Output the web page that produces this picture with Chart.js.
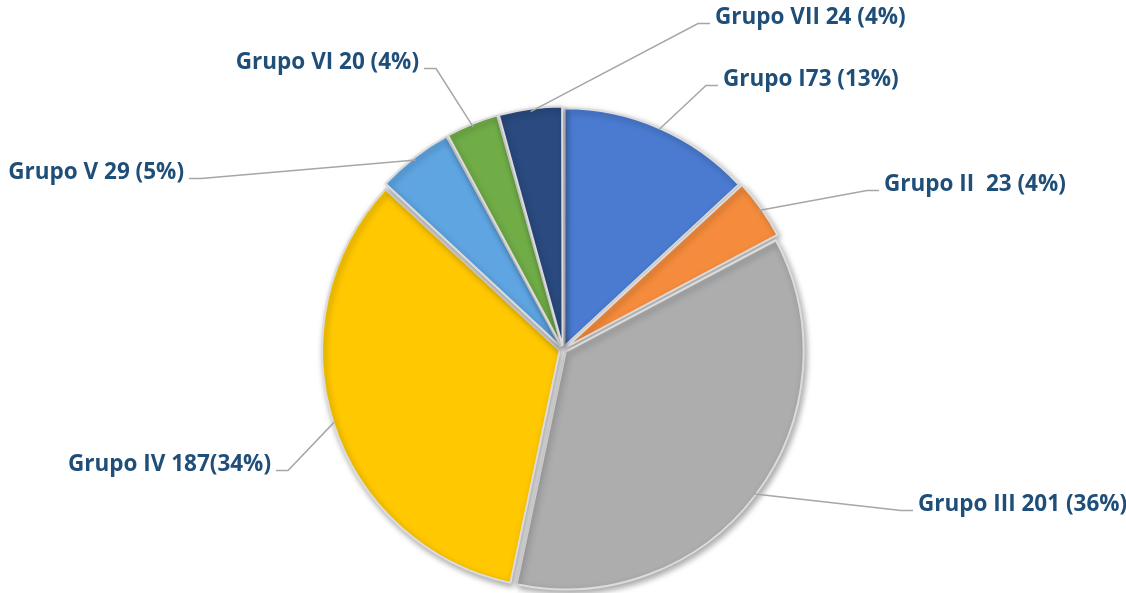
<!DOCTYPE html>
<html>
<head>
<meta charset="utf-8">
<script src="https://cdn.jsdelivr.net/npm/chart.js@4.4.0/dist/chart.umd.min.js"></script>
<style>
  html, body { margin: 0; padding: 0; background: #fff; }
  #wrap { width: 1126px; height: 593px; position: relative; }
</style>
</head>
<body>
<div id="wrap"><canvas id="grupos"></canvas></div>

<script>
// data
const categories = ["Grupo I", "Grupo II", "Grupo III", "Grupo IV", "Grupo V", "Grupo VI", "Grupo VII"];
const values = [73, 23, 201, 187, 29, 20, 24];
const labelTexts = ["Grupo I73 (13%)", "Grupo II  23 (4%)", "Grupo III 201 (36%)", "Grupo IV 187(34%)",
                    "Grupo V 29 (5%)", "Grupo VI 20 (4%)", "Grupo VII 24 (4%)"];

// styles / layout
const sliceColors = ["#4a7bd0", "#f58b3c", "#adadad", "#ffc800", "#5ea5e2", "#70ad47", "#2a4a80"];
// where each leader line bends, relative to pie centre, and which side the text sits
const labelSpots = [
  { dx: 143, dy: -264, side: "right" },
  { dx: 304, dy: -159, side: "right" },
  { dx: 338, dy: 161, side: "right" },
  { dx: -275, dy: 121, side: "left" },
  { dx: -362, dy: -171, side: "left" },
  { dx: -127, dy: -281, side: "left" },
  { dx: 135, dy: -326, side: "right" }
];

function shade(hex, amt) {
  const n = parseInt(hex.slice(1), 16);
  let r = (n >> 16) & 255, g = (n >> 8) & 255, b = n & 255;
  const f = c => Math.max(0, Math.min(255, Math.round(amt >= 0 ? c + (255 - c) * amt : c * (1 + amt))));
  return "rgb(" + f(r) + "," + f(g) + "," + f(b) + ")";
}

function bevelFill(ctx) {
  const base = sliceColors[ctx.dataIndex];
  const chart = ctx.chart;
  const arc = chart.getDatasetMeta(0).data[ctx.dataIndex];
  if (!arc || !arc.outerRadius) return base;
  const g = chart.ctx.createRadialGradient(arc.x, arc.y, 0, arc.x, arc.y, arc.outerRadius);
  g.addColorStop(0, base);
  g.addColorStop(0.92, base);
  g.addColorStop(0.965, shade(base, 0.25));
  g.addColorStop(1, shade(base, -0.35));
  return g;
}

const shadowPlugin = {
  id: "shadow",
  beforeDatasetsDraw(chart) {
    const c = chart.ctx;
    c.save();
    c.shadowColor = "rgba(0,0,0,0.35)";
    c.shadowBlur = 6;
    c.shadowOffsetX = 2;
    c.shadowOffsetY = 3;
  },
  afterDatasetsDraw(chart) {
    chart.ctx.restore();
  }
};

const leaderLabels = {
  id: "leaderLabels",
  afterDraw(chart) {
    const c = chart.ctx;
    const arcs = chart.getDatasetMeta(0).data;
    c.save();
    c.font = "bold 22.5px 'Open Sans'";
    c.textBaseline = "middle";
    arcs.forEach((arc, i) => {
      const mid = (arc.startAngle + arc.endAngle) / 2;
      const r = arc.outerRadius + 3;
      const ax = arc.x + Math.cos(mid) * r;
      const ay = arc.y + Math.sin(mid) * r;
      const spot = labelSpots[i];
      const ex = arc.x + spot.dx, ey = arc.y + spot.dy;
      const dir = spot.side === "right" ? 1 : -1;
      const tx = ex + dir * 12;
      c.strokeStyle = "#a6a6a6";
      c.lineWidth = 1.5;
      c.beginPath();
      c.moveTo(ax, ay);
      c.lineTo(ex, ey);
      c.lineTo(tx, ey);
      c.stroke();
      c.fillStyle = "#1f4e79";
      c.textAlign = dir > 0 ? "left" : "right";
      c.fillText(labelTexts[i], tx + dir * 5, ey - 6);
    });
    c.restore();
  }
};

new Chart("grupos", {
  type: "pie",
  data: {
    labels: categories,
    datasets: [{
      data: values,
      backgroundColor: bevelFill,
      borderColor: "#dcdcdc",
      borderWidth: 2,
      offset: 14
    }]
  },
  options: {
    responsive: true,
    maintainAspectRatio: false,
    animation: false,
    radius: 237,
    layout: { padding: { top: 106, bottom: 0 } },
    plugins: {
      legend: { display: false },
      tooltip: { enabled: false }
    }
  },
  plugins: [shadowPlugin, leaderLabels]
});
</script>
</body>
</html>
